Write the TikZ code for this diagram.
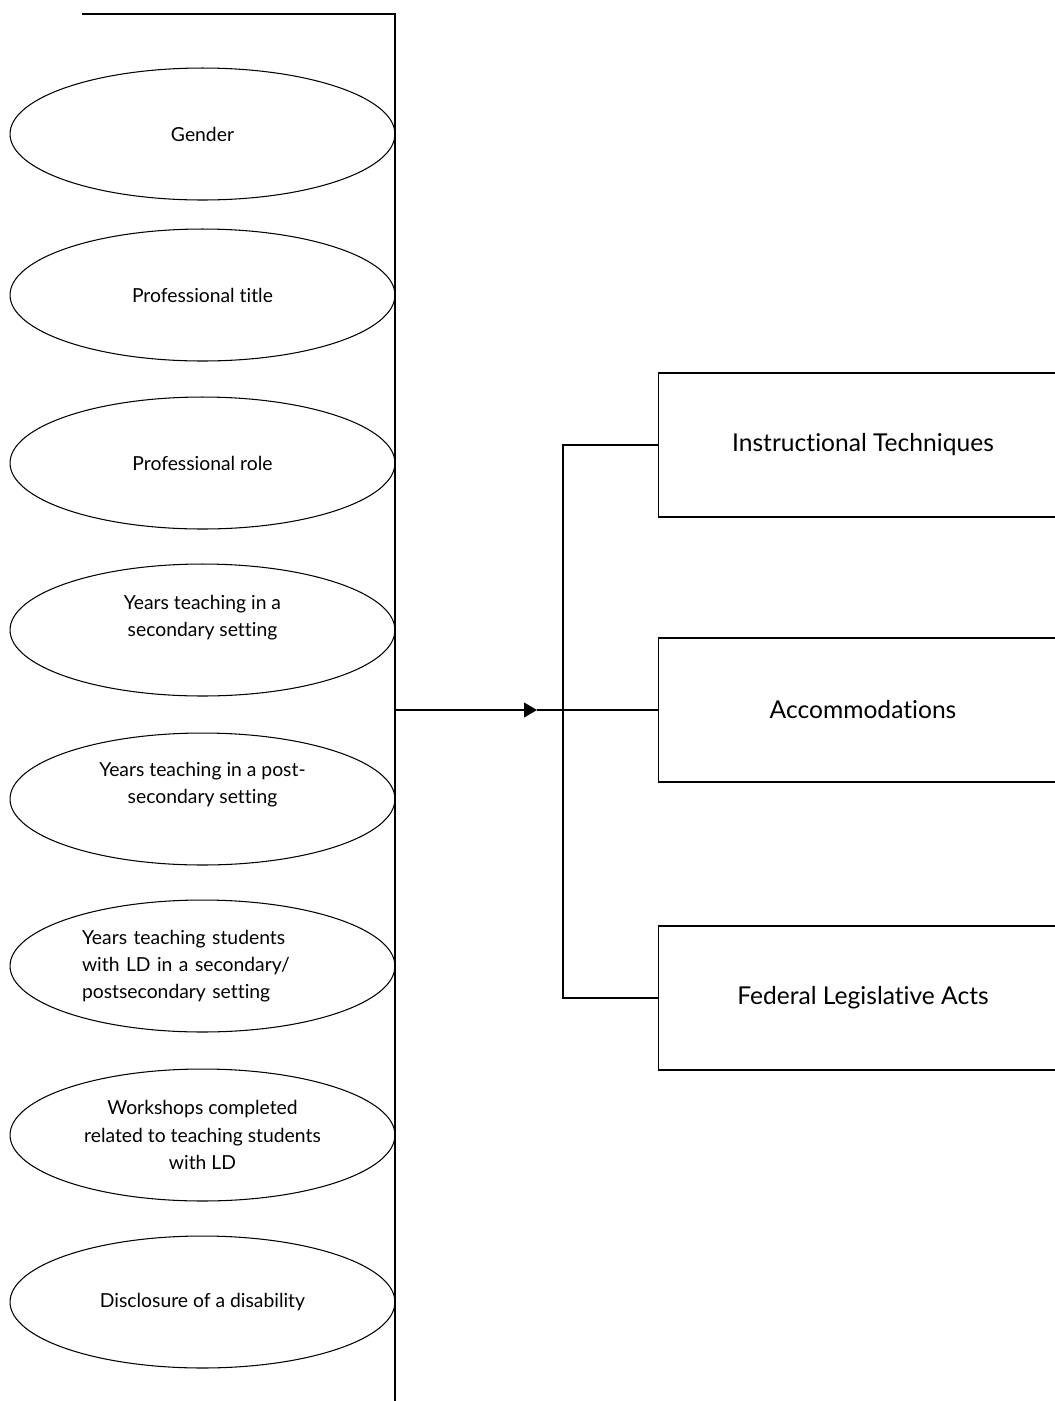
\documentclass[tikz,border=0pt]{standalone}
\usepackage{fontspec}
\setmainfont{Lato}[Ligatures={NoCommon,NoRare}]
\usetikzlibrary{positioning,shapes.geometric,arrows.meta}

\tikzset{
  factor/.style={draw, ellipse, line width=0.6pt, minimum width=7.7cm, minimum height=2.64cm,
    inner sep=0pt, align=center, font=\fontsize{11}{15.5}\selectfont},
  area/.style={draw, rectangle, line width=0.8pt, minimum width=8.18cm, minimum height=2.88cm,
    font=\fontsize{14}{16}\selectfont},
  link/.style={line width=0.8pt},
}

\begin{document}
\begin{tikzpicture}[x=0.02cm, y=-0.02cm]
  \useasboundingbox (0,0) rectangle (1055,1401);

  % factors on the left
  \node[factor] (gender) at (202.5,134) {Gender};
  \node[factor] (title) at (202.5,295) {Professional title};
  \node[factor] (role) at (202.5,463) {Professional role};
  \node[factor, text depth=16pt] (secyears) at (202.5,630) {Years teaching in a\\secondary setting};
  \node[factor, text depth=18pt] (postyears) at (202.5,799) {Years teaching in a post-\\secondary setting};
  \node[factor, align=left, text width=4.82cm] (ldyears) at (202.5,966) {Years teaching students\\with LD in a secondary/\\postsecondary setting};
  \node[factor] (workshops) at (202.5,1135) {Workshops completed\\related to teaching students\\with LD};
  \node[factor] (disclosure) at (202.5,1302) {Disclosure of a disability};

  % outcome areas on the right
  \node[area] (techniques) at (863,445) {Instructional Techniques};
  \node[area] (accom) at (863,710) {Accommodations};
  \node[area] (acts) at (863,998) {Federal Legislative Acts};

  \coordinate (topend) at (82,14);
  \coordinate (spinetop) at (395,14);
  \coordinate (spinebot) at (395,1401);
  \coordinate (spinemid) at (395,710);
  \coordinate (tip) at (537,710);
  \coordinate (brtop) at (563,445);
  \coordinate (brbot) at (563,998);

  \draw[link] (topend) -- (spinetop) -- (spinebot);
  \draw[link, -{Triangle[length=7.4pt,width=8.5pt]}] (spinemid) -- (tip);
  \draw[link] (tip) -- (accom.west);
  \draw[link] (techniques.west) -- (brtop) -- (brbot) -- (acts.west);
\end{tikzpicture}
\end{document}
